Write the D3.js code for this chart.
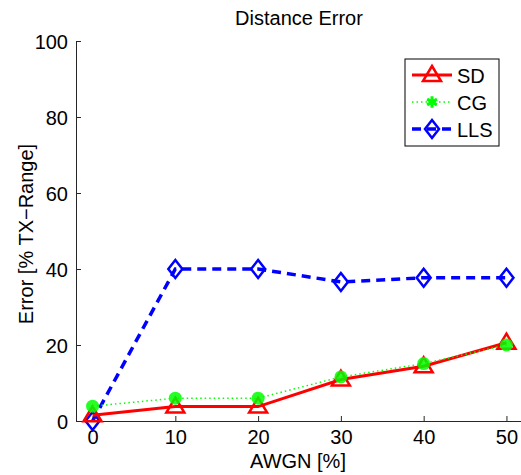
<!DOCTYPE html>
<html>
<head>
<meta charset="utf-8">
<script src="https://cdn.jsdelivr.net/npm/d3@7"></script>
<style>
  body { margin: 0; background: #fff; }
  text { font-family: "Liberation Sans", Arial, sans-serif; }
</style>
</head>
<body>
<div id="chart"></div>
<script>
const noise = [0, 10, 20, 30, 40, 50];
const sd = [1.5, 3.8, 3.8, 10.9, 14.4, 20.6];
const cg = [3.9, 6.0, 6.0, 11.6, 15.1, 20.0];
const lls = [0, 40, 40, 36.6, 37.7, 37.7];
const xTicks = [0, 10, 20, 30, 40, 50];
const yTicks = [0, 20, 40, 60, 80, 100];

const width = 521, height = 475;
const fontSize = 20;

const svg = d3.select("#chart").append("svg")
    .attr("width", width)
    .attr("height", height);

const x = d3.scaleLinear().domain([-2, 52]).range([76, 523]);
const y = d3.scaleLinear().domain([0, 100]).range([421, 41]);

// axes (MATLAB style, ticks inward, no box)
const xAxis = svg.append("g")
    .attr("transform", `translate(0,${y(0)})`)
    .call(d3.axisBottom(x).tickValues(xTicks).tickSize(-5).tickPadding(9).tickSizeOuter(0));
const yAxis = svg.append("g")
    .attr("transform", `translate(${x(-2)},0)`)
    .call(d3.axisLeft(y).tickValues(yTicks).tickSize(-5).tickPadding(8).tickSizeOuter(0));

[xAxis, yAxis].forEach(g => {
    g.select(".domain").attr("stroke", "#262626").attr("stroke-width", 1);
    g.selectAll(".tick line").attr("stroke", "#262626");
    g.selectAll(".tick text").attr("font-size", fontSize).attr("fill", "#000")
        .attr("font-family", "Liberation Sans, Arial, sans-serif");
});
yAxis.selectAll(".tick text").attr("dy", "0.36em");

svg.append("text")
    .attr("x", 299).attr("y", 25)
    .attr("text-anchor", "middle")
    .attr("font-size", fontSize)
    .text("Distance Error");

svg.append("text")
    .attr("x", 298).attr("y", 468)
    .attr("text-anchor", "middle")
    .attr("font-size", fontSize)
    .text("AWGN [%]");

svg.append("text")
    .attr("transform", "translate(33,234) rotate(-90)")
    .attr("text-anchor", "middle")
    .attr("font-size", fontSize)
    .text("Error [% TX\u2212Range]");

const series = [
    { name: "SD", values: sd, color: "#ff0000", width: 3, dash: null, marker: "tri" },
    { name: "CG", values: cg, color: "#00ff00", width: 1.5, dash: "1.5,3", marker: "dot" },
    { name: "LLS", values: lls, color: "#0000ff", width: 3.5, dash: "9,6", marker: "dia" }
];

const line = d3.line().x(d => x(d[0])).y(d => y(d[1]));

function drawMarker(g, type, color) {
    if (type === "tri") {
        g.append("path").attr("d", "M0,-9L9,6L-9,6Z")
            .attr("fill", "none").attr("stroke", color).attr("stroke-width", 2.5);
    } else if (type === "dot") {
        g.append("circle").attr("r", 6.5).attr("fill", color).attr("opacity", 0.85);
    } else {
        g.append("path").attr("d", "M0,-9L7,0L0,9L-7,0Z")
            .attr("fill", "none").attr("stroke", color).attr("stroke-width", 2.5);
    }
}

// draw order: LLS first, then SD, then CG on top
const order = [series[2], series[0], series[1]];
order.forEach(s => {
    const pts = noise.map((n, i) => [n, s.values[i]]);
    svg.append("path")
        .attr("d", line(pts))
        .attr("fill", "none")
        .attr("stroke", s.color)
        .attr("stroke-width", s.width)
        .attr("stroke-dasharray", s.dash);
    pts.forEach(p => {
        const g = svg.append("g").attr("transform", `translate(${x(p[0])},${y(p[1])})`);
        drawMarker(g, s.marker, s.color);
    });
});

// legend
const legend = svg.append("g");
legend.append("rect")
    .attr("x", 405).attr("y", 59).attr("width", 94).attr("height", 87)
    .attr("fill", "#fff").attr("stroke", "#000").attr("stroke-width", 1);
series.forEach((s, i) => {
    const ly = 75 + i * 27;
    legend.append("line")
        .attr("x1", 412).attr("x2", 452).attr("y1", ly).attr("y2", ly)
        .attr("stroke", s.color).attr("stroke-width", s.width)
        .attr("stroke-dasharray", s.dash);
    const g = legend.append("g").attr("transform", `translate(432,${ly})`);
    if (s.marker === "dot") {
        g.append("path").attr("d", d3.symbol(d3.symbolAsterisk, 90)())
            .attr("stroke", s.color).attr("stroke-width", 3).attr("fill", "none");
    } else {
        drawMarker(g, s.marker, s.color);
    }
    legend.append("text")
        .attr("x", 457).attr("y", ly + 7.5)
        .attr("font-size", fontSize)
        .text(s.name);
});
</script>
</body>
</html>
